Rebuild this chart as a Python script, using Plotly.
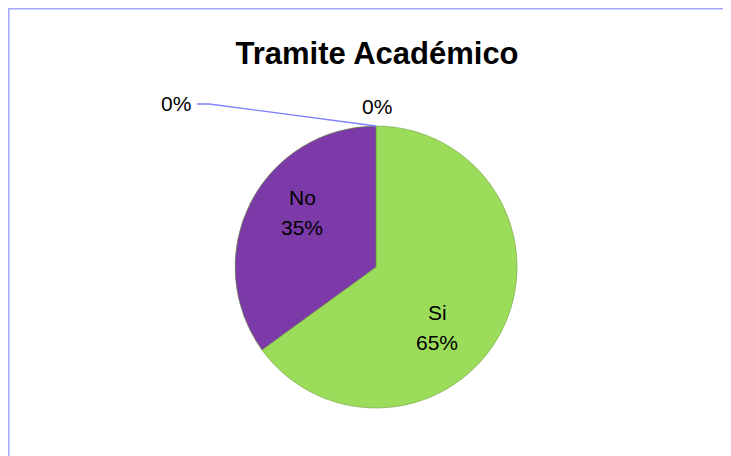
import plotly.graph_objects as go

labels = ["Si", "No"]
values = [65, 35]
colors = ["#9CDC5B", "#7B3AA7"]
zero_labels = ["0%", "0%"]

W, H = 731, 456
OFF = 8  # page body margin shifts the figure


def px(x):
    return (x - OFF) / W


def py(y):
    return 1 - (y - OFF) / H


fig = go.Figure()

fig.add_trace(go.Pie(
    labels=labels,
    values=values,
    sort=False,
    direction="clockwise",
    rotation=0,
    marker=dict(colors=colors, line=dict(color="#6E9E3E", width=0.6)),
    textinfo="none",
    hoverinfo="label+percent",
    showlegend=False,
    domain=dict(x=[px(235), px(517)], y=[py(408), py(126)]),
))

font = dict(family="Liberation Sans", size=21, color="black")
ann = dict(xref="paper", yref="paper", showarrow=False, font=font,
           xanchor="center", yanchor="middle")
total = sum(values)
# label positions inside each slice (label line, percent line)
label_pos = [(437, 312, 342), (302, 197, 227)]
for lab, val, (x, y1, y2) in zip(labels, values, label_pos):
    fig.add_annotation(x=px(x), y=py(y1), text=lab, **ann)
    fig.add_annotation(x=px(x), y=py(y2), text=f"{round(100 * val / total)}%", **ann)

# labels for the two empty categories at the top of the pie
fig.add_annotation(x=px(176), y=py(103), text=zero_labels[0], **ann)
fig.add_annotation(x=px(377), y=py(107), text=zero_labels[1], **ann)

# leader line
fig.add_shape(type="path", xref="paper", yref="paper",
              path=f"M {px(197)},{py(104)} L {px(209)},{py(104)} L {px(376)},{py(126)}",
              line=dict(color="#7F7FFF", width=1.3))

# chart border
fig.add_shape(type="rect", xref="paper", yref="paper",
              x0=0.8 / W, y0=-0.05, x1=1.05, y1=1 - 0.8 / H,
              line=dict(color="#A6A6FF", width=1.5))

fig.update_layout(
    title=dict(text="<b>Tramite Académico</b>", x=px(377), xanchor="center",
               y=py(53), yanchor="middle",
               font=dict(family="Liberation Sans", size=31, color="black")),
    width=W,
    height=H,
    margin=dict(l=0, r=0, t=0, b=0),
    paper_bgcolor="white",
    plot_bgcolor="white",
)

fig.write_html("out.html")
